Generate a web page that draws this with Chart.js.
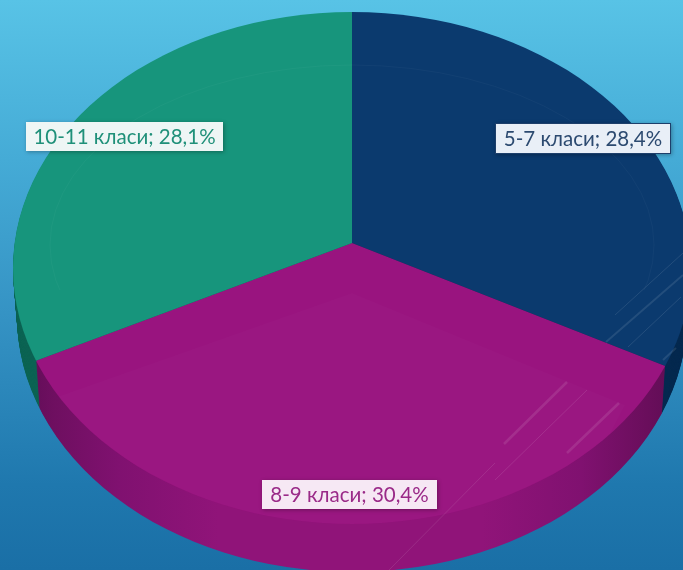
<!DOCTYPE html>
<html>
<head>
<meta charset="utf-8">
<script src="https://cdn.jsdelivr.net/npm/chart.js@4/dist/chart.umd.min.js"></script>
<style>
  html, body { margin: 0; padding: 0; width: 683px; height: 570px; overflow: hidden; }
  body { background: linear-gradient(180deg, #58c3e6 0%, #45abd6 28%, #3593c4 55%, #1f78ae 85%, #1a6fa6 100%); }
  canvas { display: block; }
</style>
</head>
<body>
<canvas id="myChart" width="683" height="570"></canvas>
<script>
// данные
const categories = ['5-7 класи', '8-9 класи', '10-11 класи'];
const values = [28.4, 30.4, 28.1];
const colors = ['#0b3a6e', '#99147f', '#17957c'];
const sideColors = ['#062a50', null, '#0d6454'];
const textColors = ['#2c4a70', '#9a2a88', '#1f9079'];
const boxColors = ['#e9eff7', '#f6e8f4', '#eef6f5'];
const boxBorders = ['#1d3f6b', '#f6e8f4', '#eef6f5'];

// геометрия псевдо-3D
const squash = 0.75;
const face = { x: 352, y: 268, rx: 339, ry: 256 };
const depth = 48;
const shrink = 4;
// подписи: прямоугольники x, y, w, h
const labelBoxes = [[495, 123, 176, 31], [262, 480, 175, 29], [26, 122, 197, 29]];

function ellipsePath(ctx, x, y, rx, ry) {
  ctx.beginPath();
  ctx.ellipse(x, y, rx, ry, 0, 0, Math.PI * 2);
  ctx.clip();
}

function tilt(ctx, arc) {
  ctx.translate(arc.x, arc.y);
  ctx.scale(1, squash);
  ctx.translate(-arc.x, -arc.y);
}

function recolored(arc, color) {
  const o = Object.create(arc.options);
  Object.defineProperty(o, 'backgroundColor', { value: color });
  const a = Object.create(arc);
  a.options = o;
  return a;
}

const pie3d = {
  id: 'pie3d',
  beforeDatasetsDraw(chart) {
    const ctx = chart.ctx;
    const arcs = chart.getDatasetMeta(0).data;
    const grad = ctx.createLinearGradient(20, 0, 680, 0);
    grad.addColorStop(0, '#5e0d55');
    grad.addColorStop(0.05, '#6e0f60');
    grad.addColorStop(0.15, '#801170');
    grad.addColorStop(0.3, '#901479');
    grad.addColorStop(0.7, '#901479');
    grad.addColorStop(0.85, '#801170');
    grad.addColorStop(0.95, '#6a0e5c');
    grad.addColorStop(1, '#5c0d52');
    // боковая стенка слоями снизу вверх
    for (let d = depth; d > 0; d--) {
      ctx.save();
      ellipsePath(ctx, face.x, face.y + d, face.rx - shrink * d / depth, face.ry);
      ctx.translate(0, d);
      arcs.forEach((arc, i) => {
        ctx.save();
        tilt(ctx, arc);
        recolored(arc, sideColors[i] || grad).draw(ctx);
        ctx.restore();
      });
      ctx.restore();
    }
    // верхняя грань
    ctx.save();
    ellipsePath(ctx, face.x, face.y, face.rx, face.ry);
    tilt(ctx, arcs[0]);
  },
  afterDatasetsDraw(chart) {
    const ctx = chart.ctx;
    ctx.restore();

    // слабый блик на верхней грани
    ctx.save();
    ellipsePath(ctx, face.x, face.y, face.rx, face.ry);
    ctx.fillStyle = 'rgba(255,255,255,0.015)';
    ctx.beginPath();
    ctx.moveTo(352, 293);
    ctx.lineTo(625, 405);
    ctx.lineTo(560, 530);
    ctx.lineTo(100, 530);
    ctx.lineTo(20, 410);
    ctx.closePath();
    ctx.fill();
    ctx.restore();

    ctx.save();
    ctx.beginPath();
    ctx.rect(0, 0, 683, 290);
    ctx.clip();
    ctx.strokeStyle = 'rgba(255,255,255,0.03)';
    ctx.beginPath();
    ctx.ellipse(352, 245, 302, 180, 0, 0, Math.PI * 2);
    ctx.stroke();
    ctx.restore();

    // декоративные линии поверх
    const streaks = [
      [504, 444, 567, 382, 2.5], [495, 480, 587, 390, 1], [567, 453, 619, 403, 2.5],
      [389, 570, 495, 463, 1], [615, 315, 683, 253, 1], [606, 342, 683, 275, 2],
      [628, 347, 681, 297, 1], [663, 360, 676, 348, 2]
    ];
    ctx.save();
    ctx.strokeStyle = 'rgba(255,255,255,0.1)';
    streaks.forEach(s => {
      ctx.lineWidth = s[4];
      ctx.beginPath();
      ctx.moveTo(s[0], s[1]);
      ctx.lineTo(s[2], s[3]);
      ctx.stroke();
    });
    ctx.restore();

    // подписи
    categories.forEach((name, i) => {
      const b = labelBoxes[i];
      ctx.save();
      ctx.shadowColor = 'rgba(0,0,0,0.3)';
      ctx.shadowBlur = 4;
      ctx.shadowOffsetX = 1;
      ctx.shadowOffsetY = 1;
      ctx.fillStyle = boxColors[i];
      ctx.fillRect(b[0], b[1], b[2], b[3]);
      ctx.shadowColor = 'transparent';
      ctx.strokeStyle = boxBorders[i];
      ctx.lineWidth = 1;
      ctx.strokeRect(b[0] + 0.5, b[1] + 0.5, b[2] - 1, b[3] - 1);
      ctx.fillStyle = textColors[i];
      ctx.font = '20.5px "Lato", sans-serif';
      ctx.textAlign = 'center';
      ctx.textBaseline = 'middle';
      const text = name + '; ' + String(values[i]).replace('.', ',') + '%';
      ctx.fillText(text, b[0] + b[2] / 2, b[1] + b[3] / 2 + 1);
      ctx.restore();
    });
  }
};

let ctx = document.getElementById('myChart').getContext('2d');
let chart = new Chart(ctx, {
  type: 'pie',
  data: {
    labels: categories,
    datasets: [{
      data: values,
      backgroundColor: colors,
      borderWidth: 0,
      clip: false
    }]
  },
  options: {
    responsive: false,
    animation: false,
    radius: 430,
    layout: { padding: { left: 21, right: 0, top: 0, bottom: 84 } },
    plugins: { legend: { display: false }, tooltip: { enabled: false } }
  },
  plugins: [pie3d]
});
</script>
</body>
</html>
